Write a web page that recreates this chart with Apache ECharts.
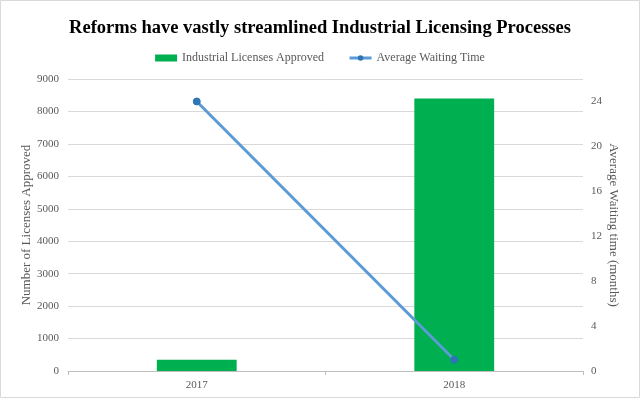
<!DOCTYPE html>
<html>
<head>
<meta charset="utf-8">
<script src="https://cdn.jsdelivr.net/npm/echarts@6/dist/echarts.min.js"></script>
<style>
html,body{margin:0;padding:0;background:#fff;}
#c{width:640px;height:398px;}
</style>
</head>
<body>
<div id="c"></div>
<script>
const categories = ['2017', '2018'];
const licensesApproved = [350, 8400];
const waitingTime = [24, 1];
const leftTicks = { min: 0, max: 9000, interval: 1000 };
const rightTicks = { min: 0, max: 26, interval: 4 };

const FONT = '"Liberation Serif", "DejaVu Serif", serif';
const GREY = '#595959';

const chart = echarts.init(document.getElementById('c'));
chart.setOption({
  animation: false,
  textStyle: { fontFamily: FONT },
  graphic: [{
    type: 'rect',
    shape: { x: 0.5, y: 0.5, width: 639, height: 397 },
    style: { fill: 'none', stroke: '#d9d9d9', lineWidth: 1 },
    silent: true
  }],
  title: {
    text: 'Reforms have vastly streamlined Industrial Licensing Processes',
    left: 'center',
    top: 14,
    textStyle: { fontFamily: FONT, fontWeight: 'bold', fontSize: 18.5, color: '#000' }
  },
  legend: {
    top: 47,
    left: 'center',
    itemGap: 24,
    itemWidth: 22,
    itemHeight: 7,
    textStyle: { fontFamily: FONT, fontSize: 12, color: GREY },
    data: [
      { name: 'Industrial Licenses Approved', icon: 'rect' },
      { name: 'Average Waiting Time', lineStyle: { width: 3, color: '#5b9bd5' } }
    ]
  },
  grid: { left: 68, right: 57, top: 79, bottom: 27, containLabel: false },
  xAxis: {
    type: 'category',
    data: categories,
    boundaryGap: true,
    axisLine: { lineStyle: { color: '#bfbfbf' } },
    axisTick: { show: true, alignWithLabel: false, length: 4, lineStyle: { color: '#bfbfbf' } },
    axisLabel: { color: GREY, fontSize: 11, margin: 9, fontFamily: FONT }
  },
  yAxis: [{
    type: 'value',
    min: leftTicks.min,
    max: leftTicks.max,
    interval: leftTicks.interval,
    name: 'Number of Licenses Approved',
    nameLocation: 'middle',
    nameGap: 35,
    nameMoveOverlap: false,
    nameTextStyle: { color: GREY, fontSize: 13, fontFamily: FONT },
    axisLine: { show: false },
    axisTick: { show: false },
    axisLabel: { color: GREY, fontSize: 11, margin: 9, fontFamily: FONT, formatter: (v) => String(v) },
    splitLine: { lineStyle: { color: '#d9d9d9' } }
  }, {
    type: 'value',
    position: 'right',
    min: rightTicks.min,
    max: rightTicks.max,
    interval: rightTicks.interval,
    name: 'Average Waiting time (months)',
    nameLocation: 'middle',
    nameRotate: -90,
    nameGap: 24,
    nameMoveOverlap: false,
    nameTextStyle: { color: GREY, fontSize: 13, fontFamily: FONT },
    axisLine: { show: false },
    axisTick: { show: false },
    axisLabel: { color: GREY, fontSize: 11, margin: 8, showMaxLabel: false, fontFamily: FONT },
    splitLine: { show: false }
  }],
  series: [{
    name: 'Industrial Licenses Approved',
    type: 'bar',
    data: licensesApproved,
    barWidth: '31%',
    itemStyle: { color: '#00b050' }
  }, {
    name: 'Average Waiting Time',
    type: 'line',
    yAxisIndex: 1,
    data: waitingTime,
    symbol: 'circle',
    symbolSize: 7,
    lineStyle: { color: '#5b9bd5', width: 3 },
    itemStyle: { color: '#2e75b6', borderColor: '#2e75b6' }
  }]
});
</script>
</body>
</html>
